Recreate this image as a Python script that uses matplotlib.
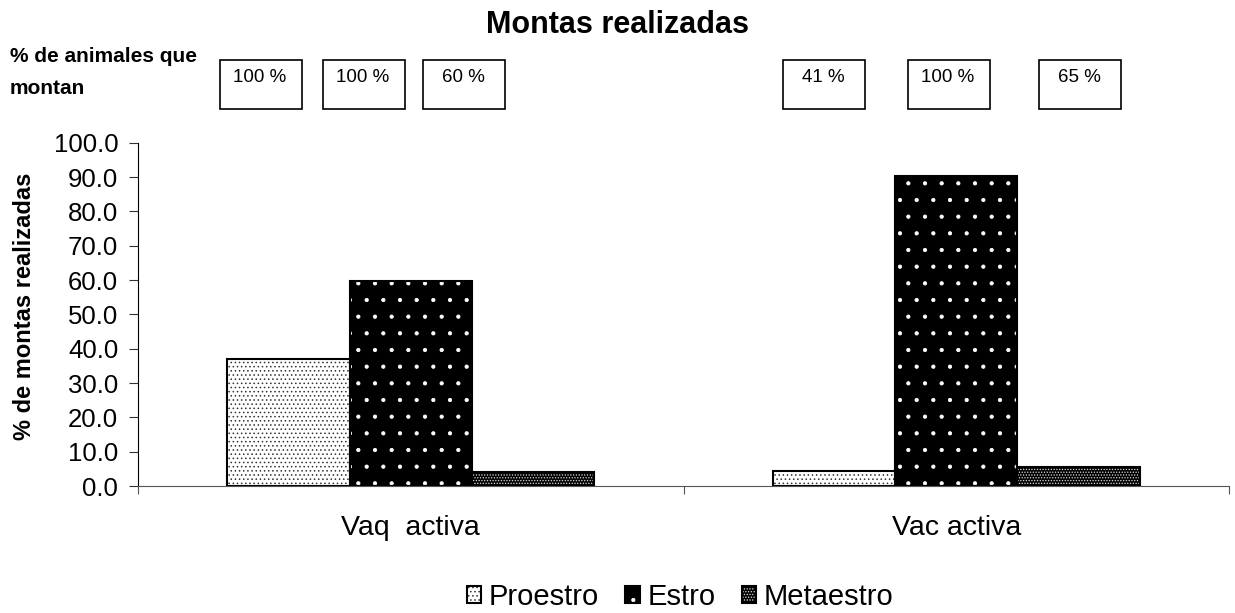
import numpy as np
import matplotlib.pyplot as plt
from matplotlib.patches import Patch, Rectangle
from matplotlib.ticker import FormatStrFormatter
from matplotlib.legend_handler import HandlerTuple

plt.rcParams['font.family'] = ['Liberation Sans', 'DejaVu Sans']
plt.rcParams['hatch.linewidth'] = 0.6

grupos = ['Vaq  activa', 'Vac activa']
fases = ['Proestro', 'Estro', 'Metaestro']
montas = {
    'Proestro': [36.9, 4.3],
    'Estro': [59.8, 90.4],
    'Metaestro': [4.1, 5.6],
}
pct_animales = [['100 %', '100 %', '60 %'], ['41 %', '100 %', '65 %']]

# face, hatch colour, hatch
estilos = {
    'Proestro': ('white', '#333333', '....'),
    'Estro': ('black', 'white', '.'),
    'Metaestro': ('black', '#dddddd', '......'),
}

fig = plt.figure(figsize=(12.35, 6.13), dpi=100)
ax = fig.add_axes([138/1235, 1-486/613, (1229-138)/1235, (486-142.7)/613])

x = np.arange(len(grupos)) + 0.5
w = 0.224
handles = []
for i, f in enumerate(fases):
    face, hc, h = estilos[f]
    pos = x + (i - 1) * w
    ax.bar(pos, montas[f], w, color=face, edgecolor=hc, hatch=h, linewidth=0)
    ax.bar(pos, montas[f], w, fill=False, edgecolor='black', linewidth=1.5)
    handles.append((Patch(facecolor=face, edgecolor=hc, hatch=h, linewidth=0),
                    Patch(fill=False, edgecolor='black', linewidth=1.5)))

ax.set_xlim(0, 2)
ax.set_ylim(0, 100)
ax.set_yticks(np.arange(0, 101, 10))
ax.yaxis.set_major_formatter(FormatStrFormatter('%.1f'))
ax.set_xticks([0, 1, 2])
ax.set_xticklabels([])
ax.set_xticks(x, minor=True)
ax.set_xticklabels(grupos, minor=True, fontsize=20.5)
ax.tick_params(axis='x', which='minor', length=0, pad=21)
ax.tick_params(axis='x', which='major', length=6, color='#555555')
ax.tick_params(axis='y', length=6.3, labelsize=18.5, pad=8, color='#333333')
for s in ['top', 'right']:
    ax.spines[s].set_visible(False)
ax.spines['bottom'].set_color('#555555')
ax.set_ylabel('% de montas realizadas', fontsize=17, fontweight='bold')
ax.yaxis.set_label_coords(36/1235, 0.5, transform=fig.transFigure)

fig.text(0.5, 1-25/613, 'Montas realizadas', ha='center', va='center',
         fontsize=22, fontweight='bold')
fig.text(10/1235, 1-47/613, '% de animales que\nmontan', ha='left', va='top',
         fontsize=15, fontweight='bold', linespacing=1.85)

cajas = [[220, 323, 423], [783, 908, 1039]]
for g in range(2):
    for j in range(3):
        x0 = cajas[g][j]
        fig.patches.append(Rectangle((x0/1235, 1-109/613), 82/1235, 49/613,
                                     transform=fig.transFigure, fill=False,
                                     edgecolor='black', linewidth=1.2))
        fig.text((x0+40)/1235, 1-77/613, pct_animales[g][j], ha='center',
                 va='center', fontsize=13.5)

fig.legend(handles, fases, loc='center', bbox_to_anchor=(680/1235, 1-597/613),
           ncol=3, frameon=False, fontsize=21, handlelength=0.5, handleheight=0.5,
           handletextpad=0.25, columnspacing=0.9,
           handler_map={tuple: HandlerTuple(ndivide=1, pad=0)})

fig.savefig('out.png', dpi=100)
